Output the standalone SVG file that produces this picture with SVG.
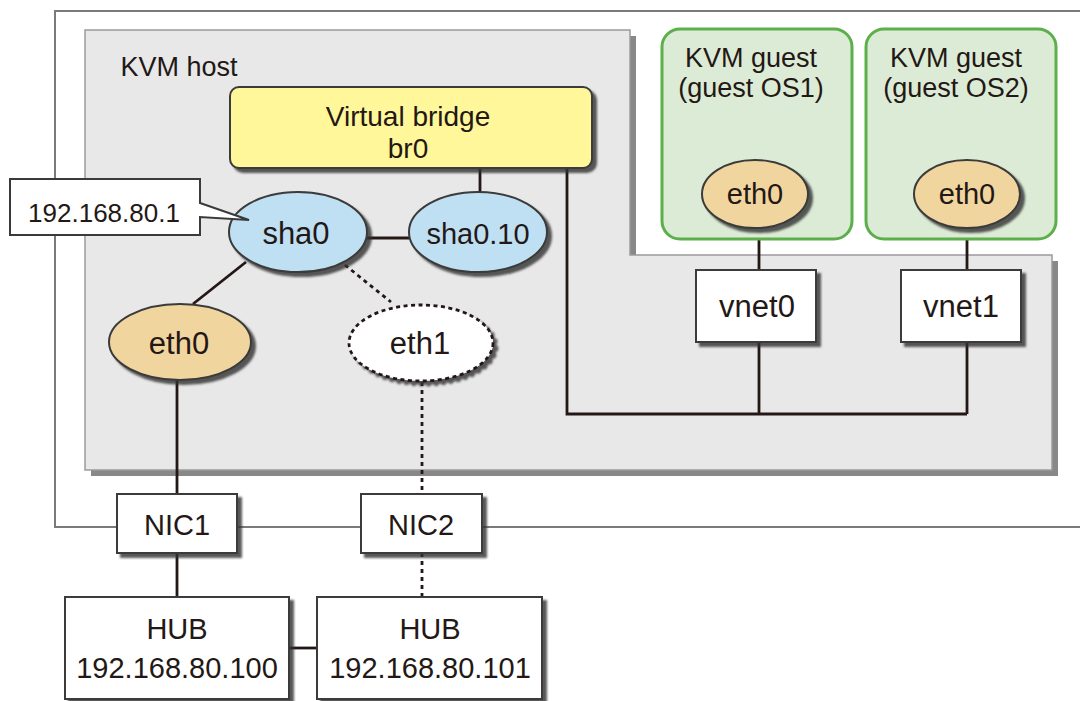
<svg xmlns="http://www.w3.org/2000/svg" width="1080" height="701" viewBox="0 0 1080 701">
<defs>
<filter id="sh" x="-20%" y="-20%" width="150%" height="150%">
<feDropShadow dx="4" dy="4" stdDeviation="1.2" flood-color="#333" flood-opacity="0.8"/>
</filter>
<style>
text{font-family:"Liberation Sans",Arial,sans-serif;fill:#231815;text-anchor:middle}
.t{font-size:29px}
.l{font-size:31px}
.k{font-size:27px}
.frame{fill:#fff;stroke:#7a7a7a;stroke-width:2}
.box{fill:#fff;stroke:#3a3a3a;stroke-width:2;filter:url(#sh)}
.ln{fill:none;stroke:#231815;stroke-width:2.8}
.dl{fill:none;stroke:#231815;stroke-width:2.8;stroke-dasharray:4 4}
.blue{fill:#bfdff3;stroke:#3a3a3a;stroke-width:2;filter:url(#sh)}
.tan{fill:#f1d59e;stroke:#3a3a3a;stroke-width:2;filter:url(#sh)}
.guest{fill:#dcebd6;stroke:#5caf4b;stroke-width:3}
</style>
</defs>
<rect id="outer" class="frame" x="55" y="11" width="1040" height="516"/>
<g id="kvm-host">
<path d="M91,36 H636 V261 H1058 V476 H91 Z" fill="#888"/>
<path d="M85,30 H630 V255 H1052 V470 H85 Z" fill="#e8e8e8" stroke="#9a9a9a" stroke-width="1.5"/>
<text class="k" x="179" y="76">KVM host</text>
</g>
<g id="connectors">
<path class="ln" d="M567,168 V414 H967"/>
<path class="ln" d="M759,342 V414"/>
<path class="ln" d="M967,342 V414"/>
<path class="ln" d="M759,228 V270"/>
<path class="ln" d="M967,228 V270"/>
<path class="ln" d="M480,168 V194"/>
<path class="ln" d="M366,238 H410"/>
<path class="ln" d="M246,262 L193,304"/>
<path class="dl" d="M345,265 L391,302"/>
<path class="ln" d="M177,380 V494"/>
<path class="dl" d="M422,382 V494"/>
<path class="ln" d="M177,553 V597"/>
<path class="dl" d="M422,553 V597"/>
<path class="ln" d="M289,648 H317"/>
</g>
<g id="guest1">
<rect class="guest" x="662" y="29" width="190" height="210" rx="18"/>
<text class="k" x="751" y="67">KVM guest</text>
<text class="k" x="751" y="97">(guest OS1)</text>
</g>
<g id="guest2">
<rect class="guest" x="866" y="29" width="190" height="210" rx="18"/>
<text class="k" x="956" y="67">KVM guest</text>
<text class="k" x="956" y="97">(guest OS2)</text>
</g>
<g id="bridge">
<rect x="230" y="87" width="362" height="81" rx="9" fill="#fff799" stroke="#3a3a3a" stroke-width="2" filter="url(#sh)"/>
<text x="408" y="126" style="font-size:28px">Virtual bridge</text>
<text x="408" y="158" style="font-size:28px">br0</text>
</g>
<g id="guest1-eth0">
<ellipse class="tan" cx="755" cy="194" rx="53" ry="34"/>
<text class="t" x="755" y="204">eth0</text>
</g>
<g id="guest2-eth0">
<ellipse class="tan" cx="967" cy="194" rx="53" ry="34"/>
<text class="t" x="967" y="204">eth0</text>
</g>
<g id="vnet0">
<rect class="box" x="696" y="270" width="120" height="72"/>
<text class="l" x="757" y="317">vnet0</text>
</g>
<g id="vnet1">
<rect class="box" x="901" y="270" width="120" height="72"/>
<text class="l" x="961" y="317">vnet1</text>
</g>
<g id="sha0">
<ellipse class="blue" cx="298" cy="232" rx="69" ry="40"/>
<text class="l" x="296" y="244">sha0</text>
</g>
<g id="sha0-10">
<ellipse class="blue" cx="478" cy="232" rx="69" ry="40"/>
<text class="t" x="478" y="244">sha0.10</text>
</g>
<g id="ip-label">
<path d="M10,179 H200 V203 L249,220 L200,217 V235 H10 Z" fill="#fff" stroke="#3a3a3a" stroke-width="2"/>
<text x="104" y="222" style="font-size:26px">192.168.80.1</text>
</g>
<g id="eth0">
<ellipse class="tan" cx="180" cy="342" rx="71" ry="38"/>
<text class="l" x="179" y="354">eth0</text>
</g>
<g id="eth1">
<ellipse cx="421" cy="343" rx="72" ry="38" fill="#fff" stroke="#231815" stroke-width="2.8" stroke-dasharray="4 3.5" filter="url(#sh)"/>
<text class="l" x="420" y="354">eth1</text>
</g>
<g id="nic1">
<rect class="box" x="117" y="494" width="120" height="59"/>
<text class="t" x="177" y="535">NIC1</text>
</g>
<g id="nic2">
<rect class="box" x="361" y="494" width="121" height="59"/>
<text class="t" x="421" y="535">NIC2</text>
</g>
<g id="hub1">
<rect class="box" x="65" y="597" width="224" height="102"/>
<text class="t" x="177" y="639">HUB</text>
<text class="t" x="177" y="678">192.168.80.100</text>
</g>
<g id="hub2">
<rect class="box" x="317" y="597" width="225" height="102"/>
<text class="t" x="430" y="639">HUB</text>
<text class="t" x="430" y="678">192.168.80.101</text>
</g>
</svg>
